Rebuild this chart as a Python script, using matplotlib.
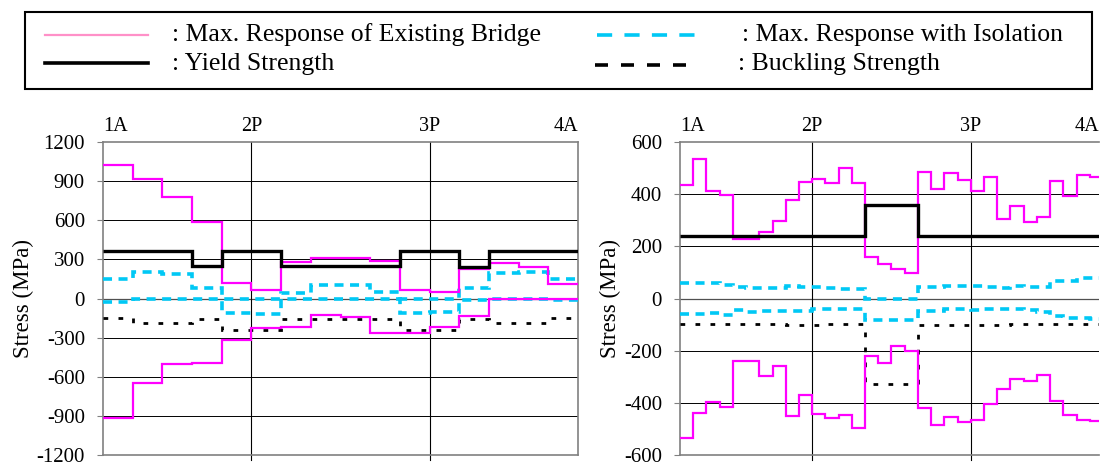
import numpy as np
import matplotlib.pyplot as plt
from matplotlib.lines import Line2D
from matplotlib.patches import Rectangle
import matplotlib.transforms as mtransforms

plt.rcParams['font.family'] = ['Liberation Serif', 'DejaVu Serif']
plt.rcParams['axes.unicode_minus'] = False

# ---- left chart: 16 members, piers 1A / 2P / 3P / 4A ----
left_piers = ['1A', '2P', '3P', '4A']
left_pier_pos = [0, 5, 11, 16]
left_exist_max = [1020, 920, 780, 585, 120, 66, 283, 311, 311, 286, 66, 48, 230, 276, 240, 112]
left_exist_min = [-920, -646, -505, -493, -316, -230, -220, -130, -140, -263, -263, -218, -136, -5, -5, -5]
left_iso_max = [148, 207, 191, 79, 0, 0, 46, 105, 105, 51, 0, 0, 84, 194, 207, 148]
left_iso_min = [-26, -5, 0, 0, -110, -118, 0, 0, 0, 0, -115, -107, -12, 0, 0, -15]
left_yield = [368, 368, 368, 248, 368, 368, 248, 248, 248, 248, 368, 368, 240, 368, 368, 368]
left_buckling = [-148, -186, -186, -161, -245, -245, -161, -161, -161, -161, -245, -245, -161, -186, -186, -148]

# ---- right chart: 32 members ----
right_piers = ['1A', '2P', '3P', '4A']
right_pier_pos = [0, 10, 22, 31.7]
right_exist_max = [434, 536, 412, 395, 230, 230, 256, 297, 376, 448, 457, 443, 499, 444, 160, 133,
                   114, 97, 485, 421, 480, 453, 412, 467, 305, 353, 293, 312, 449, 394, 472, 467]
right_exist_min = [-535, -439, -397, -417, -238, -238, -297, -260, -449, -369, -441, -458, -448, -497, -219, -247,
                   -182, -200, -420, -486, -454, -474, -467, -404, -347, -307, -315, -292, -392, -448, -465, -468]
right_iso_max = [61, 60, 58, 51, 45, 40, 40, 40, 47, 45, 44, 40, 38, 35, -3, -3,
                 -3, -3, 44, 44, 47, 49, 47, 44, 41, 47, 46, 45, 69, 68, 79, 79]
right_iso_min = [-59, -61, -56, -63, -46, -50, -49, -49, -49, -49, -41, -41, -41, -41, -81, -81,
                 -83, -81, -49, -49, -41, -41, -45, -42, -41, -42, -46, -51, -68, -73, -75, -78]
right_yield = [240] * 14 + [357] * 4 + [240] * 14
right_buckling = [-97] * 8 + [-100] * 3 + [-96] * 3 + [-328] * 4 + [-101] * 7 + [-96] * 7

MAGENTA = '#ff00ff'
CYAN = '#00c8f5'

fig = plt.figure(figsize=(11, 4.63), dpi=100)


def px_rect(x0, y0, x1, y1):
    return [x0 / 1100, 1 - y1 / 463, (x1 - x0) / 1100, (y1 - y0) / 463]


def fx(x):
    return x / 1100


def fy(y):
    return 1 - y / 463


def draw_panel(ax, exist_max, exist_min, iso_max, iso_min, yld, buck,
               piers, pier_pos, xmax, ylim, ystep):
    edges = np.arange(len(exist_max) + 1)
    ax.set_xlim(0, xmax)
    ax.set_ylim(-ylim, ylim)
    ticks = np.arange(-ylim, ylim + 1, ystep)
    ax.set_yticks(ticks)
    ax.set_yticklabels([str(t) for t in ticks])
    ax.set_xticks([])
    for t in ticks[1:-1]:
        ax.axhline(t, color='#505050' if t == 0 else 'black', lw=0.9 if t == 0 else 0.7, zorder=1)
    # pier lines
    trans = mtransforms.blended_transform_factory(ax.transData, ax.transAxes)
    for name, p in zip(piers, pier_pos):
        if 0 < p < xmax:
            ax.plot([p, p], [-0.015, 1.0], color='black', lw=0.8, transform=trans,
                    clip_on=False, zorder=1)
        ha = 'left' if p == 0 else ('right' if p >= xmax else 'center')
        ax.text(p, 1.02, name, transform=trans, ha=ha, va='bottom', fontsize=14.5)

    ax.stairs(buck, edges, baseline=None, color='black', lw=2.0,
              linestyle=(0, (1.7, 3.7)), zorder=3)
    ax.stairs(iso_max, edges, baseline=None, color=CYAN, lw=2.6,
              linestyle=(0, (2.5, 1.8)), zorder=3)
    ax.stairs(iso_min, edges, baseline=None, color=CYAN, lw=2.6,
              linestyle=(0, (2.5, 1.8)), zorder=3)
    ax.stairs(exist_max, edges, baseline=None, color=MAGENTA, lw=1.6, zorder=4)
    ax.stairs(exist_min, edges, baseline=None, color=MAGENTA, lw=1.6, zorder=4)
    ax.stairs(yld, edges, baseline=None, color='black', lw=2.4, zorder=5)

    for s in ax.spines.values():
        s.set_color('#808080')
        s.set_linewidth(1.2)
    ax.tick_params(axis='y', labelsize=15, length=4, color='#808080', pad=9)
    ax.set_ylabel('Stress (MPa)', fontsize=16.5, labelpad=2)


ax1 = fig.add_axes(px_rect(103, 142, 578, 455))
draw_panel(ax1, left_exist_max, left_exist_min, left_iso_max, left_iso_min,
           left_yield, left_buckling, left_piers, left_pier_pos, 16, 1200, 300)

ax2 = fig.add_axes(px_rect(680, 142, 1099, 455))
draw_panel(ax2, right_exist_max, right_exist_min, right_iso_max, right_iso_min,
           right_yield, right_buckling, right_piers, right_pier_pos, 31.7, 600, 200)
ax2.spines['right'].set_visible(False)

# ---- legend box at the top ----
fig.add_artist(Rectangle((fx(25), fy(89)), fx(1092) - fx(25), fy(12) - fy(89),
                         transform=fig.transFigure, fill=False, edgecolor='black', lw=1.5))
fig.add_artist(Line2D([fx(45), fx(148)], [fy(35), fy(35)], color='#ff90c8', lw=1.6))
fig.add_artist(Line2D([fx(597), fx(697)], [fy(35), fy(35)], color=CYAN, lw=2.6,
                      linestyle=(0, (4.2, 3.4))))
fig.add_artist(Line2D([fx(45), fx(148)], [fy(63), fy(63)], color='black', lw=2.6))
fig.add_artist(Line2D([fx(595), fx(697)], [fy(65), fy(65)], color='black', lw=2.6,
                      linestyle=(0, (3.6, 3.6))))
fig.text(fx(172), fy(35), ': Max. Response of Existing Bridge', fontsize=18.5, va='center')
fig.text(fx(742), fy(35), ': Max. Response with Isolation', fontsize=18.5, va='center')
fig.text(fx(172), fy(64), ': Yield Strength', fontsize=18.5, va='center')
fig.text(fx(738), fy(64), ': Buckling Strength', fontsize=18.5, va='center')

fig.savefig('out.png', dpi=100)
